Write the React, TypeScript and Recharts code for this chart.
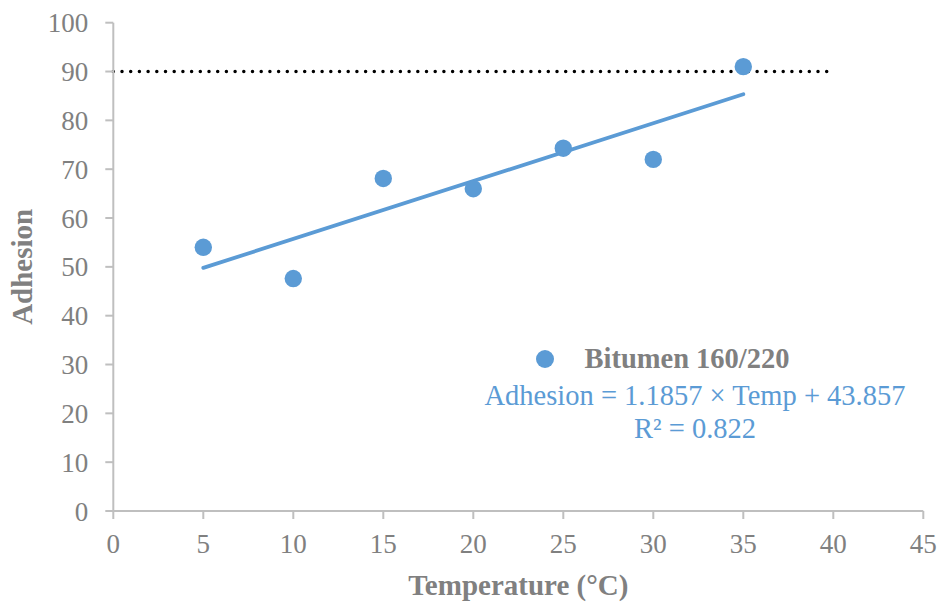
import { ComposedChart, Scatter, Line, XAxis, YAxis, ReferenceLine, Label } from 'recharts';

const temps = [5, 10, 15, 20, 25, 30, 35];
const adhesion = [54, 47.6, 68.1, 66, 74.3, 72, 91];
const xTicks = [0, 5, 10, 15, 20, 25, 30, 35, 40, 45];
const yTicks = [0, 10, 20, 30, 40, 50, 60, 70, 80, 90, 100];
const seriesName = 'Bitumen 160/220';

// linear fit reported on the chart
const slope = 1.1857;
const intercept = 43.857;
const rSquared = 0.822;
const fitRange = [5, 35];
const threshold = 90;
const thresholdRange = [0, 40];

const points = temps.map((t, i) => ({ x: t, y: adhesion[i] }));
const fitLine = fitRange.map((t) => ({ x: t, y: slope * t + intercept }));

const BLUE = '#5b9bd5';
const GREY = '#808080';
const AXIS = '#bfbfbf';
const FONT = '"Liberation Serif", "Times New Roman", serif';

const tickStyle = { fill: GREY, fontSize: 27, fontFamily: FONT };
const titleStyle = { fill: GREY, fontSize: 29, fontWeight: 'bold', fontFamily: FONT };

const LegendBox = () => (
  <div
    style={{
      position: 'absolute',
      left: 475,
      top: 341,
      width: 440,
      fontFamily: FONT,
      textAlign: 'center',
      pointerEvents: 'none',
    }}
  >
    <div
      style={{
        position: 'relative',
        left: -32,
        display: 'flex',
        alignItems: 'center',
        justifyContent: 'center',
        height: 36,
      }}
    >
      <svg width={18} height={18} style={{ marginRight: 30 }}>
        <circle cx={9} cy={9} r={9} fill={BLUE} />
      </svg>
      <span style={{ color: GREY, fontWeight: 'bold', fontSize: 28.5 }}>{seriesName}</span>
    </div>
    <div style={{ color: BLUE, fontSize: 28.5, lineHeight: '34px', marginTop: 2 }}>
      Adhesion = {slope} × Temp + {intercept}
    </div>
    <div style={{ color: BLUE, fontSize: 28.5, lineHeight: '32px' }}>
      R² = {rSquared}
    </div>
  </div>
);

export default function App() {
  return (
    <div style={{ position: 'absolute', left: 0, top: 0, width: 939, height: 602, background: '#fff' }}>
      <ComposedChart
        width={939}
        height={602}
        data={points}
        margin={{ top: 22.7, right: 15.7, left: 0, bottom: 0 }}
      >
        <XAxis
          type="number"
          dataKey="x"
          domain={[0, 45]}
          ticks={xTicks}
          interval={0}
          height={91}
          tick={tickStyle}
          tickSize={8}
          tickMargin={15}
          axisLine={{ stroke: AXIS, strokeWidth: 2 }}
          tickLine={{ stroke: AXIS, strokeWidth: 2 }}
        >
          <Label value="Temperature (°C)" position="insideBottom" offset={7} style={titleStyle} />
        </XAxis>
        <YAxis
          type="number"
          dataKey="y"
          domain={[0, 100]}
          ticks={yTicks}
          interval={0}
          width={113.3}
          tick={tickStyle}
          tickSize={8}
          tickMargin={17}
          axisLine={{ stroke: AXIS, strokeWidth: 2 }}
          tickLine={{ stroke: AXIS, strokeWidth: 2 }}
        >
          <Label
            value="Adhesion"
            angle={-90}
            position="insideLeft"
            offset={22}
            style={{ ...titleStyle, textAnchor: 'middle' }}
          />
        </YAxis>
        <ReferenceLine
          segment={[
            { x: thresholdRange[0], y: threshold },
            { x: thresholdRange[1], y: threshold },
          ]}
          stroke="#000"
          strokeWidth={3.5}
          strokeDasharray="0 8.7"
          strokeLinecap="round"
        />
        <Line
          data={fitLine}
          dataKey="y"
          type="linear"
          stroke={BLUE}
          strokeWidth={3.8}
          strokeLinecap="round"
          dot={false}
          activeDot={false}
          legendType="none"
          isAnimationActive={false}
        />
        <Scatter
          name={seriesName}
          data={points}
          dataKey="y"
          fill={BLUE}
          isAnimationActive={false}
          shape={(p: any) => <circle cx={p.cx} cy={p.cy} r={8.7} fill={BLUE} />}
        />
      </ComposedChart>
      <LegendBox />
    </div>
  );
}
